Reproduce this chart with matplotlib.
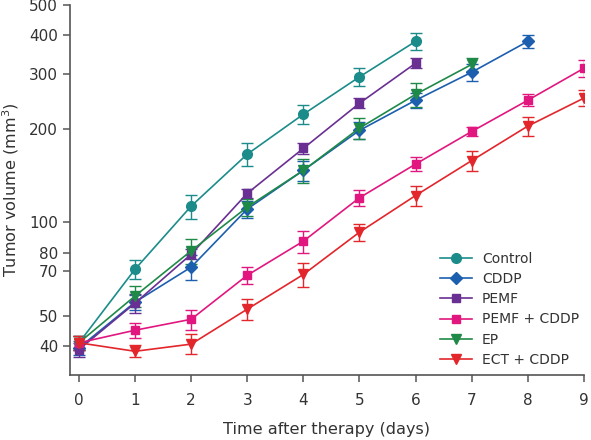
import matplotlib
matplotlib.use("Agg")
import matplotlib.pyplot as plt
from matplotlib.ticker import FixedLocator, NullLocator
from matplotlib.lines import Line2D

# ---- data ----
days_control = [0, 1, 2, 3, 4, 5, 6]
control = [41, 70.7, 112.8, 165.7, 222.7, 293.7, 382]
control_err = [2, 5, 10, 14, 16, 19, 23]

days_cddp = [0, 1, 2, 3, 4, 5, 6, 7, 8]
cddp = [39.5, 55.4, 71.8, 110.4, 147, 197.6, 247, 304, 382]
cddp_err = [2, 3, 6.5, 7, 11, 12, 13, 19, 17]

days_pemf = [0, 1, 2, 3, 4, 5, 6]
pemf = [39, 55, 79, 124, 173, 241.6, 325]
pemf_err = [2, 4, 3, 4, 7, 9, 12]

days_pemf_cddp = [0, 1, 2, 3, 4, 5, 6, 7, 8, 9]
pemf_cddp = [41, 45, 48.8, 67.6, 87, 120, 154, 196, 247, 313]
pemf_cddp_err = [2, 2.6, 3.6, 4.4, 7, 7, 8, 7, 11, 19]

days_ep = [0, 1, 2, 3, 4, 5, 6, 7]
ep = [41, 58, 81, 112, 147, 201, 258, 322]
ep_err = [2, 4.5, 7.5, 7, 13, 15, 23, 15]

days_ect = [0, 1, 2, 3, 4, 5, 6, 7, 8, 9]
ect_cddp = [41, 38.5, 40.6, 52.6, 68, 93, 122, 158, 204, 251]
ect_cddp_err = [2, 1.7, 3, 3.9, 6, 6, 9, 12, 14, 15]

labels = ["Control", "CDDP", "PEMF", "PEMF + CDDP", "EP", "ECT + CDDP"]
yticks = [40, 50, 70, 80, 100, 200, 300, 400, 500]
xticks = list(range(10))

series = [
    (days_control, control, control_err, "#1b8c8a", "o", 7),
    (days_cddp, cddp, cddp_err, "#1c5fae", "D", 6),
    (days_pemf, pemf, pemf_err, "#6a2f92", "s", 6.3),
    (days_pemf_cddp, pemf_cddp, pemf_cddp_err, "#e1177f", "s", 6.3),
    (days_ep, ep, ep_err, "#1f8a47", "v", 7.5),
    (days_ect, ect_cddp, ect_cddp_err, "#e3262b", "v", 7.5),
]

fig = plt.figure(figsize=(5.91, 4.40), dpi=100)
ax = fig.add_axes([0.1184, 0.1477, 0.988 - 0.1184, 0.9886 - 0.1477])

handles = []
for (x, y, e, c, m, ms), lab in zip(series, labels):
    ax.errorbar(x, y, yerr=e, color=c, marker=m, markersize=ms, lw=1.2,
                elinewidth=1.0, capsize=4, capthick=1.0, ecolor=c)
    handles.append(Line2D([], [], color=c, marker=m, markersize=ms,
                          lw=1.2, label=lab))

ax.set_yscale("log")
ax.set_ylim(32.3, 500)
ax.set_xlim(-0.16, 9)
ax.yaxis.set_major_locator(FixedLocator(yticks))
ax.yaxis.set_minor_locator(NullLocator())
ax.set_yticklabels([str(t) for t in yticks])
ax.set_xticks(xticks)

tc = "#333333"
for s in ["top", "right"]:
    ax.spines[s].set_visible(False)
for s in ["left", "bottom"]:
    ax.spines[s].set_color("#555555")
    ax.spines[s].set_linewidth(1.2)
ax.tick_params(axis="both", direction="out", length=5, width=1.1,
               color="#555555", labelcolor=tc, labelsize=11)
ax.tick_params(axis="x", pad=8)

ax.set_xlabel("Time after therapy (days)", fontsize=11.6, color=tc, labelpad=10)
ax.set_ylabel("Tumor volume (mm$^3$)", fontsize=11.6, color=tc)
ax.yaxis.set_label_coords(-0.095, 0.5)

leg = fig.legend(handles=handles, loc="center left",
                 bbox_to_anchor=(0.733, 0.297), frameon=False,
                 fontsize=10, handlelength=2.3, labelspacing=0.45,
                 handletextpad=0.7, borderpad=0.0)
for t in leg.get_texts():
    t.set_color(tc)

fig.savefig("out.png", dpi=100)
